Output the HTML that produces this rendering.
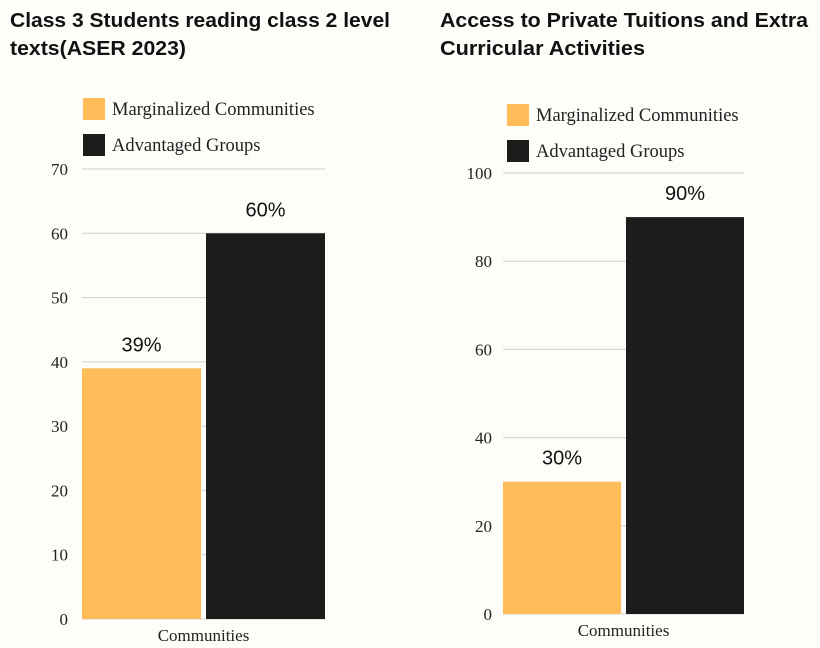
<!DOCTYPE html>
<html><head><meta charset="utf-8"><style>
body{margin:0;background:#fefdf9;}
svg{display:block}
.t{font-family:"Liberation Sans",sans-serif;font-weight:bold;font-size:20px;fill:#111}
.s{font-family:"Liberation Serif",serif;font-size:17px;fill:#222}
.lg{font-family:"Liberation Serif",serif;font-size:18.5px;fill:#222}
.v{font-family:"Liberation Sans",sans-serif;font-size:20px;fill:#111}
</style></head><body>
<svg id="c" width="820" height="648">
<rect width="820" height="648" fill="#fefdf9"/>
<text class="t" x="10" y="27" textLength="380" lengthAdjust="spacingAndGlyphs">Class 3 Students reading class 2 level</text>
<text class="t" x="10" y="55" textLength="176" lengthAdjust="spacingAndGlyphs">texts(ASER 2023)</text>
<text class="t" x="440" y="27" textLength="368" lengthAdjust="spacingAndGlyphs">Access to Private Tuitions and Extra</text>
<text class="t" x="440" y="55" textLength="205" lengthAdjust="spacingAndGlyphs">Curricular Activities</text>
</svg>
<script>
const seriesNames=["Marginalized Communities","Advantaged Groups"];
const category="Communities";
const leftValues=[39,60];
const leftTicks=[0,10,20,30,40,50,60,70];
const rightValues=[30,90];
const rightTicks=[0,20,40,60,80,100];
const colors=["#ffbd59","#1e1c1a"];
const svg=document.getElementById('c');
const NS="http://www.w3.org/2000/svg";
function mk(tag,attrs,txt){const e=document.createElementNS(NS,tag);for(const k in attrs)e.setAttribute(k,attrs[k]);if(txt!==undefined)e.textContent=txt;svg.appendChild(e);return e;}
function chart(p,vals,ticks,pre){
  const max=ticks[ticks.length-1];
  const y=v=>p.y0-(v/max)*(p.y0-p.yTop);
  ticks.forEach(t=>{
    const g=mk('line',{x1:p.x0,x2:p.x1,y1:y(t),y2:y(t),stroke:'#d0d0d0','stroke-width':1});
    
    
    const l=mk('text',{x:p.tx,y:y(t)+6,'text-anchor':'end',class:'s'},String(t));
    
    
  });
  const bw=(p.x1-p.x0-5)/2;
  vals.forEach((v,i)=>{
    const bx=p.x0+i*(bw+5);
    const b=mk('rect',{x:bx,y:y(v),width:bw,height:p.y0-y(v),fill:colors[i]});
    
    
    const t=mk('text',{x:bx+bw/2,y:y(v)-17,'text-anchor':'middle',class:'v'},v+'%');
    
    
  });
  const c=mk('text',{x:(p.x0+p.x1)/2,y:p.y0+22,'text-anchor':'middle',class:'s'},category);
  
  
  seriesNames.forEach((n,i)=>{
    const r=mk('rect',{x:p.lx,y:p.ly+i*36,width:22,height:22,fill:colors[i]});
    
    
    const t=mk('text',{x:p.lx+29,y:p.ly+i*36+17,class:'lg'},n);
    
    
  });
}
chart({x0:82,x1:325,y0:619,yTop:169,tx:68,lx:83,ly:98},leftValues,leftTicks,'left');
chart({x0:503,x1:744,y0:614,yTop:173,tx:492,lx:507,ly:104},rightValues,rightTicks,'right');
</script>
</body></html>
